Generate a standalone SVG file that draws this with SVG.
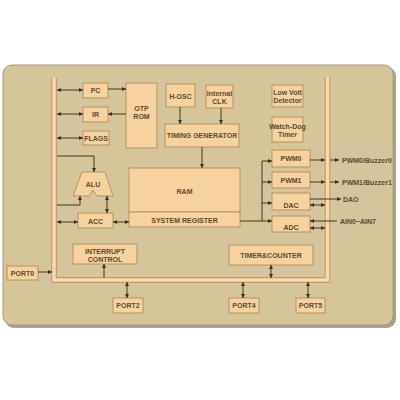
<svg xmlns="http://www.w3.org/2000/svg" width="400" height="400" viewBox="0 0 400 400">
<defs>
<marker id="ah" viewBox="0 0 6 6" refX="6" refY="3" markerWidth="4" markerHeight="4" orient="auto-start-reverse" markerUnits="userSpaceOnUse"><path d="M0,0 L6,3 L0,6 z" fill="#3a3024"/></marker>
<style>
.box{fill:#f6d39c;stroke:#b8925c;stroke-width:1}
.t{font-family:"Liberation Sans",Arial,sans-serif;font-size:7px;font-weight:bold;fill:#5a4a38;text-anchor:middle;dominant-baseline:central}
.tl{font-family:"Liberation Sans",Arial,sans-serif;font-size:7px;font-weight:bold;fill:#5a4a38;dominant-baseline:central}
.c{fill:none;stroke:#3f3528;stroke-width:1}
.a{marker-end:url(#ah)}
.d{marker-start:url(#ah);marker-end:url(#ah)}
</style>
</defs>
<rect x="0" y="0" width="400" height="400" fill="#ffffff"/>
<rect x="5" y="67" width="391" height="261" rx="9" fill="#a89f8c"/>
<rect x="3" y="65" width="390" height="260" rx="9" fill="#d5c59a" stroke="#a8987a" stroke-width="1"/>
<g id="bus">
<path d="M54,78 V280 H327.5 V77" fill="none" stroke="#c0935a" stroke-width="5.5"/>
<path d="M54,78 V280 H327.5 V77" fill="none" stroke="#f8dcae" stroke-width="3.5"/>
</g>
<g id="PC"><rect class="box" x="83" y="83" width="25" height="15"/><text class="t" x="95.5" y="90.5">PC</text></g>
<g id="IR"><rect class="box" x="83" y="107" width="25" height="15"/><text class="t" x="95.5" y="114.5">IR</text></g>
<g id="FLAGS"><rect class="box" x="83" y="131" width="26" height="14"/><text class="t" x="96" y="138">FLAGS</text></g>
<g id="OTPROM"><rect class="box" x="126" y="83" width="31" height="65"/><text class="t" x="141.5" y="108">OTP</text><text class="t" x="141.5" y="116">ROM</text></g>
<g id="HOSC"><rect class="box" x="166" y="84" width="29" height="23"/><text class="t" x="180.5" y="96">H-OSC</text></g>
<g id="CLK"><rect class="box" x="206" y="85" width="27" height="23"/><text class="t" x="219.5" y="93">Internal</text><text class="t" x="219.5" y="101">CLK</text></g>
<g id="TIMING"><rect class="box" x="165" y="124" width="74" height="23"/><text class="t" x="202" y="135">TIMING GENERATOR</text></g>
<g id="LVD"><rect class="box" x="272" y="85" width="31" height="22"/><text class="t" x="287.5" y="92">Low Volt</text><text class="t" x="287.5" y="100">Detector</text></g>
<g id="WDT"><rect class="box" x="272" y="117" width="31" height="25"/><text class="t" x="287.5" y="126">Watch-Dog</text><text class="t" x="287.5" y="134">Timer</text></g>
<g id="RAM"><rect class="box" x="129" y="168" width="111" height="44"/><text class="t" x="184.5" y="191">RAM</text></g>
<g id="SYSREG"><rect class="box" x="129" y="212" width="111" height="15"/><text class="t" x="184.5" y="220">SYSTEM REGISTER</text></g>
<g id="ALU"><path d="M73,196 L89,196 L93,190 L97,196 L113,196 L105,172 L82,172 Z" fill="#f6d39c" stroke="#b8925c" stroke-width="1"/><text class="t" x="93" y="184">ALU</text></g>
<g id="ACC"><rect class="box" x="78" y="213" width="35" height="15"/><text class="t" x="95.5" y="221">ACC</text></g>
<g id="PWM0"><rect class="box" x="272" y="150" width="38" height="17"/><text class="t" x="291" y="158.5">PWM0</text></g>
<g id="PWM1"><rect class="box" x="272" y="172" width="38" height="16"/><text class="t" x="291" y="180.5">PWM1</text></g>
<g id="DAC"><rect class="box" x="272" y="193" width="38" height="17"/><text class="t" x="291" y="205">DAC</text></g>
<g id="ADC"><rect class="box" x="272" y="216" width="38" height="16"/><text class="t" x="291" y="227">ADC</text></g>
<g id="INT"><rect class="box" x="73" y="244" width="64" height="20"/><text class="t" x="105" y="251">INTERRUPT</text><text class="t" x="105" y="259">CONTROL</text></g>
<g id="TC"><rect class="box" x="229" y="245" width="84" height="20"/><text class="t" x="271" y="255">TIMER&amp;COUNTER</text></g>
<g id="PORT0"><rect class="box" x="7" y="266" width="31" height="14"/><text class="t" x="22.5" y="273">PORT0</text></g>
<g id="PORT2"><rect class="box" x="113" y="298" width="30" height="15"/><text class="t" x="128" y="305.5">PORT2</text></g>
<g id="PORT4"><rect class="box" x="229" y="298" width="30" height="15"/><text class="t" x="244" y="305.5">PORT4</text></g>
<g id="PORT5"><rect class="box" x="296" y="298" width="29" height="15"/><text class="t" x="310.5" y="305.5">PORT5</text></g>
<g id="labels">
<text class="tl" x="342" y="160">PWM0/Buzzer0</text>
<text class="tl" x="342" y="182">PWM1/Buzzer1</text>
<text class="tl" x="343" y="199">DAO</text>
<text class="tl" x="340" y="221">AIN0~AIN7</text>
</g>
<g id="connectors">
<path class="c d" d="M57,90 H83"/>
<path class="c d" d="M57,114 H83"/>
<path class="c d" d="M57,138 H83"/>
<path class="c a" d="M108,89 H126"/>
<path class="c a" d="M126,114 H108"/>
<path class="c a" d="M180,107 V124"/>
<path class="c a" d="M221,108 V124"/>
<path class="c a" d="M202,147 V168"/>
<path class="c a" d="M57,156 H94 V172"/>
<path class="c a" d="M57,205 H80 V196"/>
<path class="c d" d="M107,196 V213"/>
<path class="c d" d="M57,222 H78"/>
<path class="c d" d="M113,222 H129"/>
<path class="c a" d="M240,221 H272"/>
<path class="c" d="M262,161 V221"/>
<path class="c a" d="M262,161 H272"/>
<path class="c a" d="M262,182 H272"/>
<path class="c a" d="M262,203 H272"/>
<path class="c a" d="M310,160 H325"/>
<path class="c a" d="M330,160 H339"/>
<path class="c a" d="M310,182 H325"/>
<path class="c a" d="M330,182 H339"/>
<path class="c a" d="M310,199 H341"/>
<path class="c d" d="M310,205 H325"/>
<path class="c a" d="M337,221 H310"/>
<path class="c d" d="M310,228 H325"/>
<path class="c a" d="M104,278 V264"/>
<path class="c d" d="M271,265 V278"/>
<path class="c a" d="M38,272 H52"/>
<path class="c d" d="M127,282 V298"/>
<path class="c d" d="M243,282 V298"/>
<path class="c d" d="M308,282 V298"/>
</g>
</svg>
